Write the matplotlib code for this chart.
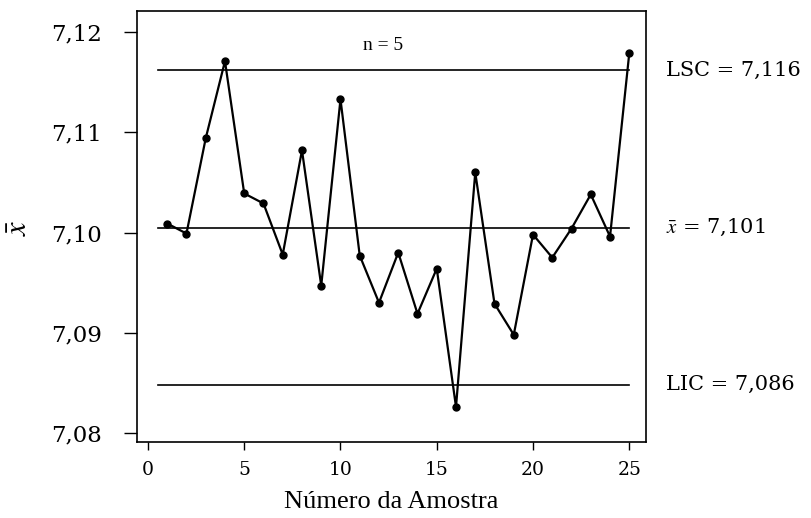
import matplotlib.pyplot as plt
from matplotlib.ticker import FuncFormatter

plt.rcParams['font.family'] = ['Liberation Serif', 'DejaVu Serif']
plt.rcParams['mathtext.fontset'] = 'stix'

amostra = list(range(1, 26))
media = [7.1009, 7.0999, 7.1094, 7.1171, 7.1039, 7.1029, 7.0978, 7.1082, 7.0947, 7.1133,
         7.0977, 7.0930, 7.0980, 7.0919, 7.0964, 7.0826, 7.1060, 7.0929, 7.0898, 7.0998,
         7.0975, 7.1004, 7.1038, 7.0996, 7.1179]
lsc, centro, lic = 7.1162, 7.1005, 7.0848
limite_labels = ["LSC = 7,116", r"$\bar{x}$ = 7,101", "LIC = 7,086"]

fig = plt.figure(figsize=(8.12, 5.18), dpi=100)
ax = fig.add_axes([0.1687, 0.1467, 0.6269, 0.832])

for val in (lsc, centro, lic):
    ax.plot([0.5, 25], [val, val], color="black", lw=1.2)

ax.plot(amostra, media, color="black", lw=1.6, marker="o", markersize=5)

ax.set_xlim(-0.57, 25.87)
ax.set_ylim(7.0791, 7.1221)
ax.set_xticks([0, 5, 10, 15, 20, 25])
ax.set_yticks([7.08, 7.09, 7.10, 7.11, 7.12])
ax.yaxis.set_major_formatter(FuncFormatter(lambda v, p: f"{v:.2f}".replace(".", ",")))
ax.tick_params(axis="y", length=9.5, width=1, pad=16)
ax.tick_params(axis="x", length=6, width=1, pad=8)
for lab in ax.get_yticklabels():
    lab.set_fontfamily("DejaVu Serif")
    lab.set_fontsize(16.5)
for lab in ax.get_xticklabels():
    lab.set_fontfamily("DejaVu Serif")
    lab.set_fontsize(13.5)
for s in ax.spines.values():
    s.set_linewidth(1.2)

ax.text(12.2, 7.1187, "n = 5", fontsize=14, ha="center", va="center")
for val, lab in zip((lsc, centro, lic), limite_labels):
    ax.text(26.9, val, lab, fontsize=15, ha="left", va="center", clip_on=False,
            family="DejaVu Serif")

ax.set_xlabel("Número da Amostra", fontsize=19, labelpad=8)
fig.text(0.024, 0.56, r"$\bar{x}$", fontsize=22, rotation=90, ha="center", va="center")

fig.savefig("out.png", dpi=100)
